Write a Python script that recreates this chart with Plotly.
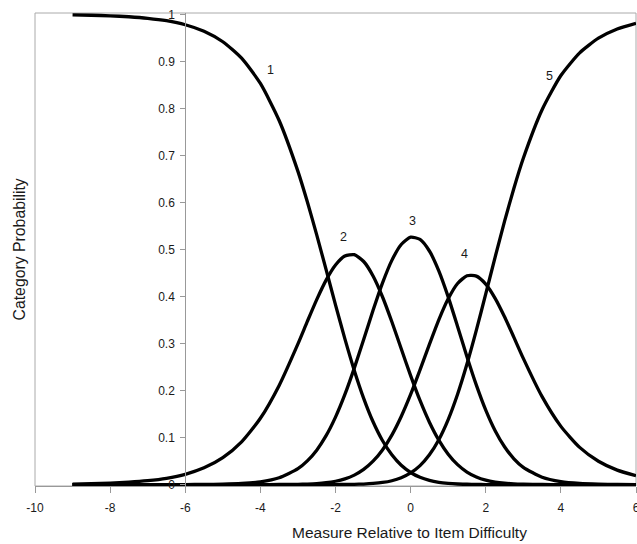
import plotly.graph_objects as go

# Measure relative to item difficulty (logits)
measure = [-9, -8.5, -8, -7.5, -7, -6.5, -6, -5.5, -5, -4.5, -4, -3.5,
           -3, -2.75, -2.5, -2.25, -2, -1.75, -1.5, -1.25, -1, -0.75, -0.5, -0.25, 0,
           0.25, 0.5, 0.75, 1, 1.25, 1.5, 1.75, 2, 2.25, 2.5, 2.75, 3,
           3.5, 4, 4.5, 5, 5.5, 6]

# Category probability curves
cat1 = [0.9989, 0.9982, 0.9970, 0.9950, 0.9918, 0.9866, 0.9780, 0.9641, 0.9418, 0.9068, 0.8531, 0.7744,
        0.6662, 0.6014, 0.5311, 0.4571, 0.3823, 0.3099, 0.2428, 0.1835, 0.1336, 0.0937, 0.0633, 0.0411, 0.0257,
        0.0154, 0.0089, 0.0049, 0.0026, 0.0013, 0.0007, 0.0003, 0.0001, 0.0001, 0.0, 0.0, 0.0,
        0.0, 0.0, 0.0, 0.0, 0.0, 0.0]
cat2 = [0.0011, 0.0018, 0.0030, 0.0050, 0.0082, 0.0134, 0.0219, 0.0356, 0.0573, 0.0909, 0.1410, 0.2110,
        0.2993, 0.3470, 0.3934, 0.4348, 0.4670, 0.4860, 0.4889, 0.4745, 0.4437, 0.3995, 0.3463, 0.2888, 0.2318,
        0.1789, 0.1327, 0.0946, 0.0647, 0.0424, 0.0267, 0.0162, 0.0094, 0.0053, 0.0029, 0.0015, 0.0008,
        0.0002, 0.0001, 0.0, 0.0, 0.0, 0.0]
cat3 = [0.0, 0.0, 0.0, 0.0, 0.0, 0.0, 0.0001, 0.0003, 0.0009, 0.0023, 0.0059, 0.0145,
        0.0338, 0.0504, 0.0733, 0.1040, 0.1435, 0.1917, 0.2477, 0.3086, 0.3706, 0.4285, 0.4769, 0.5107, 0.5262,
        0.5215, 0.4968, 0.4545, 0.3992, 0.3364, 0.2721, 0.2116, 0.1584, 0.1146, 0.0804, 0.0549, 0.0367,
        0.0155, 0.0062, 0.0024, 0.0009, 0.0003, 0.0001]
cat4 = [0.0, 0.0, 0.0, 0.0, 0.0, 0.0, 0.0, 0.0, 0.0, 0.0, 0.0, 0.0002,
        0.0006, 0.0012, 0.0022, 0.0040, 0.0071, 0.0121, 0.0201, 0.0322, 0.0497, 0.0737, 0.1053, 0.1449, 0.1917,
        0.2439, 0.2983, 0.3505, 0.3952, 0.4277, 0.4442, 0.4434, 0.4264, 0.3961, 0.3569, 0.3131, 0.2684,
        0.1870, 0.1238, 0.0792, 0.0497, 0.0308, 0.0189]
cat5 = [0.0, 0.0, 0.0, 0.0, 0.0, 0.0, 0.0, 0.0, 0.0, 0.0, 0.0, 0.0,
        0.0, 0.0, 0.0, 0.0001, 0.0001, 0.0003, 0.0006, 0.0012, 0.0024, 0.0045, 0.0082, 0.0145, 0.0247,
        0.0403, 0.0633, 0.0955, 0.1383, 0.1922, 0.2563, 0.3285, 0.4056, 0.4839, 0.5597, 0.6304, 0.6941,
        0.7973, 0.8700, 0.9183, 0.9494, 0.9689, 0.9810]

series = [cat1, cat2, cat3, cat4, cat5]
curve_labels = ["1", "2", "3", "4", "5"]
label_x = [-3.72, -1.80, 0.05, 1.44, 3.70]
label_y = [0.882, 0.527, 0.560, 0.490, 0.870]

x_ticks = [-10, -8, -6, -4, -2, 0, 2, 4, 6]
x_ticktext = ["-10", "-8", "-6", "-4", "-2", "0", "2", "4", "6"]
y_ticks = [0, 0.1, 0.2, 0.3, 0.4, 0.5, 0.6, 0.7, 0.8, 0.9, 1]
y_ticktext = ["0", "0.1", "0.2", "0.3", "0.4", "0.5", "0.6", "0.7", "0.8", "0.9", "1"]

FONT = "Arial, Liberation Sans, Helvetica, sans-serif"
TXT = "#1a1a1a"

fig = go.Figure()
for s in series:
    fig.add_trace(go.Scatter(x=measure, y=s, mode="lines",
                             line=dict(color="black", width=3.3, shape="spline", smoothing=0.6),
                             hoverinfo="skip"))

for t, lx, ly in zip(curve_labels, label_x, label_y):
    fig.add_annotation(x=lx, y=ly, text=t, showarrow=False,
                       font=dict(family=FONT, size=12.5, color=TXT))

fig.add_annotation(xref="paper", yref="paper", x=-0.025, y=0.50, xanchor="center", yanchor="middle",
                   text="Category Probability", showarrow=False, textangle=-90,
                   font=dict(family=FONT, size=15.8, color=TXT))
fig.add_annotation(xref="paper", yref="paper", x=0.623, y=-0.098, xanchor="center", yanchor="middle",
                   text="Measure Relative to Item Difficulty", showarrow=False,
                   font=dict(family=FONT, size=15.5, color=TXT))

fig.add_shape(type="rect", xref="paper", yref="paper", x0=0, y0=0, x1=1, y1=1,
              line=dict(color="#aaaaaa", width=1), layer="below")

fig.update_layout(
    width=637, height=544,
    margin=dict(l=35, r=1, t=13, b=58, autoexpand=False),
    paper_bgcolor="white", plot_bgcolor="white",
    showlegend=False,
    font=dict(family=FONT, size=12, color=TXT),
    xaxis=dict(range=[-10, 6], tickvals=x_ticks, ticktext=x_ticktext,
               showgrid=False, zeroline=False, automargin=False,
               ticklabeloverflow="allow",
               showline=True, linecolor="#999999", linewidth=1,
               ticks="outside", ticklen=6, tickcolor="#999999",
               ticklabelstandoff=5, tickfont=dict(size=12, color=TXT)),
    yaxis=dict(range=[-0.003, 1.003], tickvals=y_ticks, ticktext=y_ticktext,
               automargin=False, ticklabeloverflow="allow",
               anchor="free", position=0.25, showgrid=False, zeroline=False,
               showline=True, linecolor="#999999", linewidth=1,
               ticks="outside", ticklen=5, tickcolor="#999999",
               ticklabelstandoff=3, tickfont=dict(size=12, color=TXT)),
)

fig.write_html("out.html", config={"displayModeBar": False},
               post_script="document.body.style.margin='0';document.body.style.overflow='hidden';")
